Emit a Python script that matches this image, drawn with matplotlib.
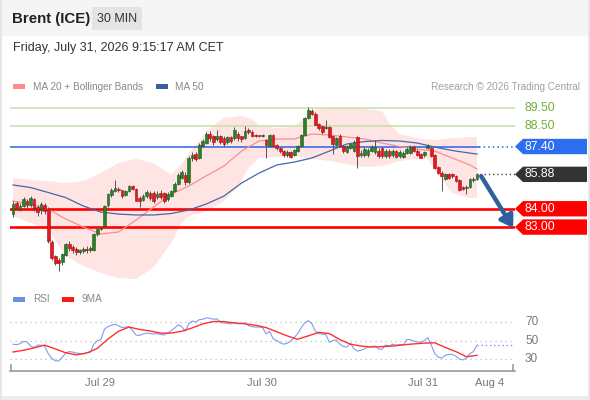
import matplotlib
matplotlib.use('Agg')
import matplotlib.pyplot as plt
import matplotlib.transforms as mtransforms
from matplotlib.patches import Polygon, Rectangle
from matplotlib.lines import Line2D

plt.rcParams['font.family'] = ['Liberation Sans', 'DejaVu Sans']

# ---------------- data ----------------
title = "Brent (ICE)"
interval = "30 MIN"
timestamp = "Friday, July 31, 2026 9:15:17 AM CET"
credit = "Research \u00a9 2026 Trading Central"

opens = [83.71, 84.31, 84.00, 84.15, 84.45, 84.20, 84.55, 84.10, 83.95, 84.20,
         84.00, 82.20, 81.40, 81.20, 81.10, 81.50, 82.10, 81.90, 81.80, 81.65,
         81.70, 81.82, 81.75, 81.75, 82.60, 82.90, 83.05, 84.20, 84.75, 84.95,
         85.10, 85.00, 84.75, 84.95, 85.25, 85.10, 84.60, 84.50, 84.70, 84.85,
         84.85, 84.65, 84.88, 84.85, 84.55, 84.72, 84.97, 85.35, 85.70, 85.85,
         85.45, 86.75, 87.00, 86.75, 87.45, 87.60, 88.10, 87.95, 87.80, 87.95,
         87.85, 87.65, 87.90, 87.85, 88.10, 87.95, 87.85, 88.30, 88.20, 88.05,
         88.00, 87.97, 87.75, 87.45, 88.05, 87.50, 87.30, 87.15, 86.95, 87.10,
         86.95, 87.15, 87.42, 88.05, 88.95, 89.35, 89.20, 88.65, 88.50, 88.40,
         88.45, 87.95, 87.50, 88.00, 87.45, 87.10, 87.30, 87.15, 87.90, 86.95,
         86.95, 86.95, 87.15, 87.10, 87.15, 87.30, 86.90, 87.15, 86.95, 87.15,
         86.90, 86.85, 87.05, 87.05, 87.38, 87.15, 87.00, 86.95, 87.30, 87.30,
         86.95, 86.30, 85.95, 85.62, 85.88, 85.90, 85.78, 85.55, 85.20, 85.12,
         85.20, 85.55, 85.62]
highs = [84.42, 84.45, 84.30, 84.65, 84.55, 84.72, 84.60, 84.20, 84.35, 84.30,
         84.10, 82.30, 81.50, 81.30, 81.60, 82.15, 82.25, 82.00, 81.90, 81.80,
         81.90, 81.95, 81.95, 82.65, 82.95, 83.00, 84.20, 84.85, 85.15, 85.55,
         85.20, 85.05, 85.05, 85.30, 85.30, 85.15, 84.70, 84.80, 85.00, 84.95,
         84.95, 84.95, 85.00, 84.90, 84.90, 85.05, 85.45, 85.95, 86.10, 86.00,
         86.90, 87.10, 87.10, 87.60, 87.80, 88.20, 88.25, 88.05, 88.30, 88.05,
         87.95, 88.00, 88.00, 88.45, 88.20, 88.00, 88.50, 88.40, 88.30, 88.10,
         88.05, 88.10, 87.80, 88.10, 88.10, 87.55, 87.35, 87.20, 87.20, 87.15,
         87.25, 87.50, 88.10, 89.00, 89.55, 89.45, 89.30, 88.70, 88.55, 88.85,
         88.50, 88.00, 87.90, 88.10, 87.50, 87.50, 87.60, 87.75, 88.00, 87.20,
         87.35, 87.30, 87.50, 87.75, 87.30, 87.40, 87.25, 87.25, 87.25, 87.20,
         87.20, 87.15, 87.40, 87.50, 87.50, 87.25, 87.05, 87.15, 87.55, 87.35,
         87.00, 86.35, 86.05, 85.95, 85.95, 85.95, 85.85, 85.60, 85.25, 85.30,
         85.70, 85.75, 85.95]
lows = [83.55, 83.95, 83.90, 84.10, 84.05, 84.10, 83.90, 83.60, 83.70, 83.70,
        82.15, 81.20, 80.90, 80.60, 80.95, 81.40, 81.70, 81.60, 81.50, 81.55,
        81.60, 81.60, 81.65, 81.70, 82.50, 82.85, 82.95, 84.10, 84.65, 84.90,
        84.90, 84.60, 84.70, 84.90, 85.00, 84.40, 84.10, 84.40, 84.60, 84.50,
        84.30, 84.55, 84.55, 84.30, 84.45, 84.65, 84.90, 85.30, 85.60, 85.30,
        85.35, 86.60, 86.60, 86.70, 87.35, 87.55, 87.70, 87.50, 87.70, 87.55,
        87.45, 87.55, 87.60, 87.75, 87.70, 87.65, 87.80, 88.10, 87.90, 87.90,
        87.90, 87.90, 86.75, 87.40, 87.40, 87.20, 87.05, 86.85, 86.85, 86.75,
        86.90, 87.10, 87.40, 88.00, 88.90, 89.10, 88.55, 88.30, 88.10, 88.35,
        87.85, 87.00, 87.45, 87.40, 87.05, 87.05, 87.25, 87.10, 86.25, 86.85,
        86.85, 86.85, 87.10, 87.00, 86.80, 86.80, 86.80, 86.80, 86.85, 86.75,
        86.80, 86.80, 87.00, 87.00, 87.10, 86.90, 86.75, 86.85, 87.25, 86.85,
        86.15, 85.90, 84.97, 85.55, 85.60, 85.70, 85.45, 84.95, 85.00, 84.80,
        85.15, 85.45, 85.55]
closes = [84.26, 84.04, 84.15, 84.53, 84.20, 84.60, 84.05, 83.80, 84.25, 83.90,
          82.25, 81.30, 81.05, 81.05, 81.55, 82.05, 81.85, 81.75, 81.65, 81.72,
          81.80, 81.72, 81.85, 82.60, 82.90, 82.95, 84.15, 84.80, 85.05, 85.15,
          85.00, 84.72, 84.95, 85.25, 85.10, 84.45, 84.40, 84.72, 84.90, 84.60,
          84.45, 84.82, 84.65, 84.45, 84.82, 84.97, 85.35, 85.85, 86.00, 85.45,
          86.80, 86.95, 86.70, 87.50, 87.70, 88.10, 87.85, 87.65, 87.98, 87.65,
          87.55, 87.92, 87.70, 88.30, 87.85, 87.80, 88.25, 88.20, 87.95, 87.98,
          87.97, 88.00, 87.50, 88.05, 87.45, 87.30, 87.15, 86.95, 87.10, 86.85,
          87.20, 87.42, 88.05, 88.95, 89.40, 89.18, 88.60, 88.40, 88.20, 88.47,
          87.90, 87.55, 87.85, 87.45, 87.15, 87.40, 87.55, 87.65, 86.90, 87.05,
          87.25, 87.20, 87.40, 87.35, 86.88, 86.90, 87.15, 86.90, 87.15, 86.85,
          87.10, 87.05, 87.25, 87.35, 87.18, 86.95, 86.80, 87.10, 87.45, 86.90,
          86.20, 85.95, 85.80, 85.88, 85.68, 85.80, 85.50, 85.05, 85.10, 85.20,
          85.65, 85.62, 85.88]

ma_idx = [0, 5, 10, 15, 20, 25, 30, 35, 40, 45, 50, 55, 60, 65, 70, 75, 80, 85,
          90, 95, 100, 105, 110, 115, 120, 125, 130, 132]
ma50 = [85.30, 85.16, 84.89, 84.61, 84.15, 83.82, 83.71, 83.66, 83.66, 83.74,
        83.93, 84.26, 84.69, 85.40, 85.95, 86.39, 86.55, 86.77, 87.15, 87.54,
        87.67, 87.73, 87.70, 87.59, 87.37, 87.18, 87.04, 86.99]
ma20 = [84.42, 84.26, 83.98, 83.44, 83.00, 82.62, 82.73, 83.38, 84.10, 84.80,
        85.24, 85.80, 86.33, 87.15, 87.70, 87.81, 87.81, 88.08, 88.03, 87.92,
        87.81, 87.59, 87.40, 87.26, 87.15, 86.77, 86.39, 86.17]

up_idx = [0, 5, 10, 15, 20, 25, 30, 35, 40, 45, 48, 50, 53, 55, 60, 65, 68, 70,
          75, 80, 83, 85, 90, 95, 100, 105, 107, 110, 115, 120, 125, 130, 132]
upper_band = [85.68, 85.57, 85.51, 85.40, 85.51, 85.95, 86.50, 86.72, 86.50,
              85.84, 86.44, 87.04, 87.70, 88.25, 88.96, 89.07, 88.90, 88.57,
              88.41, 88.47, 89.01, 89.39, 89.50, 89.50, 89.45, 89.34, 88.68,
              88.08, 87.86, 87.75, 87.86, 87.92, 87.92]
lo_idx = [0, 5, 10, 13, 15, 20, 25, 30, 35, 40, 45, 48, 50, 55, 60, 64, 67, 70,
          75, 80, 85, 90, 95, 100, 105, 110, 115, 118, 120, 123, 125, 130, 132]
lower_band = [83.60, 83.22, 82.89, 81.96, 81.42, 80.87, 80.49, 80.21, 80.16,
              80.81, 82.13, 83.22, 83.60, 83.87, 84.42, 85.19, 86.22, 86.77,
              86.83, 86.88, 86.72, 86.61, 86.44, 86.28, 86.33, 86.61, 86.72,
              86.72, 86.06, 85.35, 84.86, 84.58, 84.58]

rsi = [46, 45.5, 46.5, 49, 48.5, 44, 42.5, 45, 45, 44,
       36, 31, 28, 28, 32, 36.5, 38, 37.5, 36.5, 36,
       35.5, 37, 37, 46, 50, 51, 62, 65, 66.5, 67.5,
       66, 64, 64.5, 65, 61, 56, 55.5, 57, 58, 57.5,
       57, 57.5, 56.5, 56, 58, 60.5, 63.5, 67, 65, 60,
       68, 71, 70, 72.5, 73, 74.5, 74, 73, 73.5, 69.5,
       69, 68.5, 68, 69.5, 68, 68.5, 69, 66, 65, 64.5,
       64.5, 64, 57, 60, 52, 50, 47.5, 46, 47, 49.5,
       53, 57.5, 64, 69, 71.5, 68.5, 60, 57.5, 57, 56.5,
       48, 50, 50.5, 46, 43.5, 43, 47, 41, 38.5, 39.5,
       41, 43, 43.5, 44, 41, 40.5, 45, 44, 46, 45,
       45.5, 45, 51, 51, 49.5, 48.5, 48, 50, 53, 45,
       36, 32, 31, 34, 35, 35, 33, 30, 29, 31,
       36, 38, 45]
rsi_ma_idx = list(range(0, 133, 3))
rsi_ma9 = [37.6, 39.5, 42, 45, 41, 36.7, 34.5, 36.5, 41.5, 51.5,
           60, 64.5, 62, 60.3, 58, 58, 60, 63.6, 68, 70.5,
           70.5, 69, 68, 66.5, 64, 59.5, 55, 51.3, 55, 58.8,
           57.5, 51, 46, 44, 43, 43.4, 44, 45.3, 46.3, 47.2,
           47.5, 42.5, 38, 32.5, 34]

resistances = [89.50, 88.50]
pivot = 87.40
last_price = 85.88
supports = [84.00, 83.00]
rsi_levels = [70, 50, 30]
date_labels = ["Jul 29", "Jul 30", "Jul 31", "Aug 4"]
date_pos = [24.75, 70.8, 116.6, 135.7]

# ---------------- figure ----------------
W, H = 590, 400
fig = plt.figure(figsize=(W / 100, H / 100), dpi=100)
fig.patch.set_facecolor('white')


def fx(px):
    return px / W


def fy(py):
    return 1 - py / H


# header band & frame
fig.add_artist(Rectangle((0, fy(36)), 1, 36 / H, transform=fig.transFigure,
                         facecolor='#f5f5f5', edgecolor='none', zorder=0))
fig.add_artist(Rectangle((0, 0), 1, 4 / H, transform=fig.transFigure,
                         facecolor='#ececec', edgecolor='none', zorder=0))
fig.add_artist(Rectangle((0, 0), 2 / W, 1, transform=fig.transFigure,
                         facecolor='#e6e6e6', edgecolor='none', zorder=0))
fig.add_artist(Rectangle((1 - 2 / W, 0), 2 / W, 1, transform=fig.transFigure,
                         facecolor='#e6e6e6', edgecolor='none', zorder=0))
fig.add_artist(Rectangle((fx(92), fy(30)), 50 / W, 23 / H, transform=fig.transFigure,
                         facecolor='#e4e4e4', edgecolor='none', zorder=1))

fig.text(fx(12), fy(19), title, fontsize=10.8, fontweight='bold', color='#222222',
         va='center', ha='left')
fig.text(fx(117), fy(19), interval, fontsize=9, color='#333333', va='center', ha='center')
fig.text(fx(13), fy(48.5), timestamp, fontsize=9, color='#333333', va='center', ha='left')

# legends
fig.add_artist(Rectangle((fx(13), fy(89)), 12 / W, 5 / H, transform=fig.transFigure,
                         facecolor='#ff8a8a', edgecolor='none'))
fig.text(fx(33), fy(86.5), "MA 20 + Bollinger Bands", fontsize=7.2, color='#888888',
         va='center', ha='left')
fig.add_artist(Rectangle((fx(156), fy(89)), 12 / W, 5 / H, transform=fig.transFigure,
                         facecolor='#3c5fa0', edgecolor='none'))
fig.text(fx(175), fy(86.5), "MA 50", fontsize=7.2, color='#888888', va='center', ha='left')
fig.text(fx(580), fy(86.5), credit, fontsize=7.2, color='#a0a0a0', va='center', ha='right')

fig.add_artist(Rectangle((fx(13), fy(301.5)), 12 / W, 5 / H, transform=fig.transFigure,
                         facecolor='#6b8ee8', edgecolor='none'))
fig.text(fx(33), fy(299), "RSI", fontsize=7.2, color='#888888', va='center', ha='left')
fig.add_artist(Rectangle((fx(62), fy(301.5)), 12 / W, 5 / H, transform=fig.transFigure,
                         facecolor='#ff1a1a', edgecolor='none'))
fig.text(fx(82), fy(299), "9MA", fontsize=7.2, color='#888888', va='center', ha='left')

# ---------------- price panel ----------------
ax = fig.add_axes([fx(10), fy(286), 505 / W, 190 / H])
ax.set_xlim(-0.853, 142.82)
ax.set_ylim(79.78, 90.16)
ax.axis('off')

# Bollinger band
band_pts = list(zip(up_idx, upper_band)) + list(zip(lo_idx[::-1], lower_band[::-1]))
ax.add_patch(Polygon(band_pts, closed=True, facecolor='#ffe4e4', edgecolor='none', zorder=1))
ax.plot(ma_idx, ma20, color='#f79090', lw=0.9, zorder=2)
ax.plot(ma_idx, ma50, color='#4766a8', lw=0.9, zorder=2)

n = len(closes)
last_x = n - 1

# levels
for r in resistances:
    ax.axhline(r, color='#c3dfa8', lw=1.1, zorder=1.5)
ax.plot([-0.853, last_x + 0.5], [pivot, pivot], color='#2b63e6', lw=1.1, zorder=1.5)
ax.plot([last_x + 0.5, 142.82], [pivot, pivot], color='#2b63e6', lw=1.1, ls=(0, (1, 2)), zorder=1.5)
ax.plot([last_x + 0.8, 142.82], [last_price, last_price], color='#444444', lw=1.0,
        ls=(0, (1, 2)), zorder=1.5)
for s in supports:
    ax.axhline(s, color='#ff0000', lw=1.9, zorder=1.5)

# candles
for i in range(n):
    o, h, l, c = opens[i], highs[i], lows[i], closes[i]
    up = c >= o
    ax.vlines(i, l, h, color='#555555', lw=0.7, zorder=3)
    bottom = min(o, c)
    height = max(abs(c - o), 0.04)
    ax.bar(i, height, bottom=bottom, width=0.78,
           color='#2a8129' if up else '#e8161d',
           edgecolor='#1d521d' if up else '#9a0f0f', lw=0.4, zorder=4)

# arrow
ax.annotate('', xy=(142.3, 82.95), xytext=(133.2, 85.78),
            arrowprops=dict(arrowstyle='-|>,head_length=0.7,head_width=0.45',
                            color='#2f5f9e', lw=3.2, shrinkA=0, shrinkB=0),
            zorder=6, annotation_clip=False)

# right-side tags
trans = mtransforms.blended_transform_factory(ax.transAxes, ax.transData)
tx = 1.0198


def tag(price, text, fc):
    hh = 0.42
    pts = [(1.0, price), (1.0158, price + hh), (1.1426, price + hh),
           (1.1426, price - hh), (1.0158, price - hh)]
    ax.add_patch(Polygon(pts, closed=True, transform=trans, facecolor=fc,
                         edgecolor='none', clip_on=False, zorder=7))
    ax.text(tx, price, text, transform=trans, color='white', fontsize=8.7,
            va='center', ha='left', clip_on=False, zorder=8)


for r in resistances:
    ax.text(tx, r, f"{r:.2f}", transform=trans, color='#6fae3a', fontsize=8.7,
            va='center', ha='left', clip_on=False)
tag(pivot, f"{pivot:.2f}", '#2d6ef0')
tag(last_price, f"{last_price:.2f}", '#333333')
for s in supports:
    tag(s, f"{s:.2f}", '#ff0000')

# ---------------- RSI panel ----------------
rx = fig.add_axes([fx(10), fy(371), 505 / W, 65 / H])
rx.set_xlim(-0.853, 142.82)
rx.set_ylim(17.03, 87.3)
for s in ['top', 'right', 'left']:
    rx.spines[s].set_visible(False)
rx.spines['bottom'].set_color('#9a9a9a')
rx.spines['bottom'].set_linewidth(1.2)
rx.set_yticks([])
for lv in rsi_levels:
    rx.axhline(lv, color='#bdbdbd', lw=0.9, ls=(0, (1, 3)), zorder=1)
rtrans = mtransforms.blended_transform_factory(rx.transAxes, rx.transData)
for lv in rsi_levels:
    rx.text(tx, lv, str(lv), transform=rtrans, color='#777777', fontsize=8.5,
            va='center', ha='left', clip_on=False)
rx.plot(range(n), rsi, color='#7f9ded', lw=0.8, zorder=3)
rx.plot([last_x, 142.82], [rsi[-1], rsi[-1]], color='#7f9ded', lw=1.0,
        ls=(0, (1, 2)), zorder=3)
rx.plot(rsi_ma_idx, rsi_ma9, color='#ff3030', lw=1.0, zorder=4)
for xe in (0.002, 0.996):
    rx.add_line(Line2D([xe, xe], [0, 0.09], transform=rx.transAxes, color='#9a9a9a',
                       lw=1.2, clip_on=False))
rx.set_xticks(date_pos)
rx.set_xticklabels(date_labels)
rx.tick_params(axis='x', length=0, pad=5, labelsize=8, labelcolor='#777777')

fig.savefig('out.png', dpi=100)
